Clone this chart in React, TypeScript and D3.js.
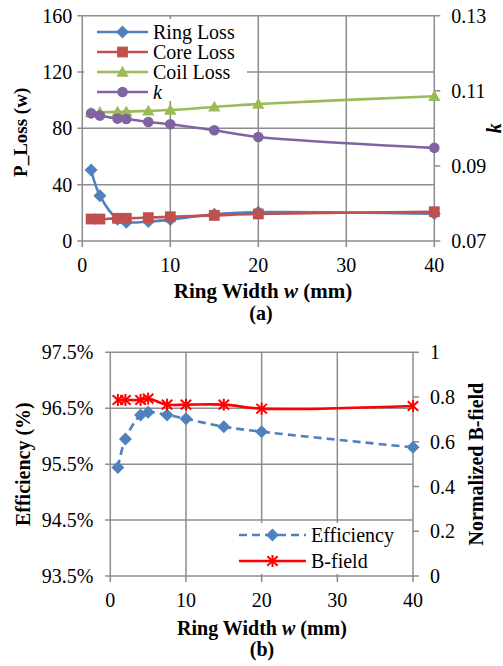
import React from "react";
import * as d3 from "d3";

// Ring width sweep (mm)
const widths = [1, 2, 4, 5, 7.5, 10, 15, 20, 40];

// (a) losses in W and coupling factor k
const ringLoss = [50.4, 32.2, 15.5, 13.3, 13.8, 15.2, 19.0, 20.5, 19.3];
const coreLoss = [15.6, 15.6, 16.1, 16.1, 16.6, 17.2, 18.2, 19.2, 20.8];
const coilLoss = [91.2, 91.4, 91.7, 91.9, 92.4, 93.0, 95.2, 97.3, 102.8];
const kFactor = [0.104, 0.1034, 0.1026, 0.1025, 0.1017, 0.1011, 0.0995, 0.0977, 0.0948];

// (b) efficiency in % and normalized B-field
const efficiency = [95.44, 95.95, 96.38, 96.43, 96.38, 96.31, 96.17, 96.08, 95.8];
const bField = [0.787, 0.787, 0.787, 0.793, 0.766, 0.766, 0.766, 0.748, 0.76];

// Tick labels
const xTicks = [0, 10, 20, 30, 40];
const lossTicks = [0, 40, 80, 120, 160];
const kTicks = [0.07, 0.09, 0.11, 0.13];
const effTicks = [93.5, 94.5, 95.5, 96.5, 97.5];
const bTicks = [0, 0.2, 0.4, 0.6, 0.8, 1];

const FONT = "Liberation Serif";
const GRID = "#8c8c8c";
const BLUE = "#4F81BD";
const RED = "#C0504D";
const GREEN = "#9BBB59";
const PURPLE = "#8064A2";
const BRED = "#FF0000";

type Pt = [number, number];

function Marker({ kind, x, y, color }: { kind: string; x: number; y: number; color: string }) {
  if (kind === "diamond") {
    const r = 6.5;
    return <path d={`M${x},${y - r}L${x + r},${y}L${x},${y + r}L${x - r},${y}Z`} fill={color} />;
  }
  if (kind === "square") {
    const s = 5.4;
    return <rect x={x - s} y={y - s} width={2 * s} height={2 * s} fill={color} />;
  }
  if (kind === "triangle") {
    const s = 6.2;
    return <path d={`M${x},${y - s}L${x + s},${y + s * 0.75}L${x - s},${y + s * 0.75}Z`} fill={color} />;
  }
  if (kind === "circle") {
    return <circle cx={x} cy={y} r={5.3} fill={color} />;
  }
  // asterisk
  const a = 6;
  return (
    <g stroke={color} strokeWidth={2}>
      <line x1={x} y1={y - a} x2={x} y2={y + a} />
      <line x1={x - a * 0.87} y1={y - a * 0.8} x2={x + a * 0.87} y2={y + a * 0.8} />
      <line x1={x - a * 0.87} y1={y + a * 0.8} x2={x + a * 0.87} y2={y - a * 0.8} />
    </g>
  );
}

function Series({
  pts,
  color,
  kind,
  dash,
}: {
  pts: Pt[];
  color: string;
  kind: string;
  dash?: string;
}) {
  const line = d3.line<Pt>().curve(d3.curveCatmullRom.alpha(0.5));
  return (
    <g>
      <path d={line(pts) || ""} fill="none" stroke={color} strokeWidth={2.6} strokeDasharray={dash} />
      {pts.map((p, i) => (
        <Marker key={i} kind={kind} x={p[0]} y={p[1]} color={color} />
      ))}
    </g>
  );
}

function LegendRow({
  x0,
  x1,
  y,
  color,
  kind,
  dash,
  children,
}: {
  x0: number;
  x1: number;
  y: number;
  color: string;
  kind: string;
  dash?: string;
  children: React.ReactNode;
}) {
  return (
    <g>
      <line x1={x0} y1={y} x2={x1} y2={y} stroke={color} strokeWidth={2.6} strokeDasharray={dash} />
      <Marker kind={kind} x={(x0 + x1) / 2} y={y} color={color} />
      <text x={x1 + 5} y={y} dy="0.33em" fontSize={20} fontFamily={FONT}>
        {children}
      </text>
    </g>
  );
}

export default function App() {
  // ---- chart (a) ----
  const xA = d3.scaleLinear().domain([0, 40]).range([82.3, 434.3]);
  const yA = d3.scaleLinear().domain([0, 160]).range([241, 15.7]);
  const kA = d3.scaleLinear().domain([0.07, 0.13]).range([241, 15.7]);

  // ---- chart (b) ----
  const xB = d3.scaleLinear().domain([0, 40]).range([110.3, 413]);
  const yB = d3.scaleLinear().domain([93.5, 97.5]).range([576, 352.3]);
  const bB = d3.scaleLinear().domain([0, 1]).range([576, 352.3]);

  const ptsA = (vals: number[], ys: d3.ScaleLinear<number, number>): Pt[] =>
    widths.map((w, i) => [xA(w), ys(vals[i])]);
  const ptsB = (vals: number[], ys: d3.ScaleLinear<number, number>): Pt[] =>
    widths.map((w, i) => [xB(w), ys(vals[i])]);

  const [a0, a1] = xA.range();
  const [aBot, aTop] = yA.range();
  const [b0, b1] = xB.range();
  const [bBot, bTop] = yB.range();

  return (
    <svg
      width={503}
      height={666}
      style={{ position: "absolute", left: 0, top: 0, background: "#fff" }}
      fontFamily={FONT}
    >
      <rect width={503} height={666} fill="#fff" />

      {/* ===== (a) Loss and k ===== */}
      <g>
        {lossTicks.map((t) => (
          <line key={t} x1={a0 - 5} x2={a1} y1={yA(t)} y2={yA(t)} stroke={GRID} strokeWidth={1.5} />
        ))}
        {xTicks.map((t) => (
          <line key={t} x1={xA(t)} x2={xA(t)} y1={aTop} y2={aBot + 6} stroke={GRID} strokeWidth={1.5} />
        ))}
        {kTicks.map((t) => (
          <line key={t} x1={a1} x2={a1 + 6} y1={kA(t)} y2={kA(t)} stroke={GRID} strokeWidth={1.5} />
        ))}
        {lossTicks.map((t) => (
          <text key={t} x={a0 - 10} y={yA(t)} dy="0.35em" textAnchor="end" fontSize={20} fontFamily={FONT}>
            {t}
          </text>
        ))}
        {kTicks.map((t) => (
          <text key={t} x={a1 + 17} y={kA(t)} dy="0.35em" fontSize={20} fontFamily={FONT}>
            {t.toFixed(2)}
          </text>
        ))}
        {xTicks.map((t) => (
          <text key={t} x={xA(t)} y={272} textAnchor="middle" fontSize={20} fontFamily={FONT}>
            {t}
          </text>
        ))}

        {/* legend */}
        <rect x={84} y={19} width={163} height={82} fill="#fff" />
        <LegendRow x0={97} x1={148} y={32} color={BLUE} kind="diamond">Ring Loss</LegendRow>
        <LegendRow x0={97} x1={148} y={52} color={RED} kind="square">Core Loss</LegendRow>
        <LegendRow x0={97} x1={148} y={72} color={GREEN} kind="triangle">Coil Loss</LegendRow>
        <LegendRow x0={97} x1={148} y={92} color={PURPLE} kind="circle">
          <tspan fontStyle="italic">k</tspan>
        </LegendRow>

        <Series pts={ptsA(coilLoss, yA)} color={GREEN} kind="triangle" />
        <Series pts={ptsA(kFactor, kA)} color={PURPLE} kind="circle" />
        <Series pts={ptsA(ringLoss, yA)} color={BLUE} kind="diamond" />
        <Series pts={ptsA(coreLoss, yA)} color={RED} kind="square" />

        <text
          transform={`translate(20,${(aTop + aBot) / 2 + 4}) rotate(-90)`}
          textAnchor="middle"
          dy="0.35em"
          fontSize={19}
          fontWeight="bold"
          fontFamily={FONT}
        >
          P_Loss (w)
        </text>
        <text
          transform={`translate(494,${(aTop + aBot) / 2}) rotate(-90)`}
          textAnchor="middle"
          dy="0.35em"
          fontSize={20}
          fontWeight="bold"
          fontStyle="italic"
          fontFamily={FONT}
        >
          k
        </text>
        <text x={263} y={298} textAnchor="middle" fontSize={21} fontWeight="bold" fontFamily={FONT}>
          Ring Width <tspan fontStyle="italic">w</tspan> (mm)
        </text>
        <text x={261} y={320} textAnchor="middle" fontSize={20} fontWeight="bold" fontFamily={FONT}>
          (a)
        </text>
      </g>

      {/* ===== (b) Efficiency and B-field ===== */}
      <g>
        {effTicks.map((t) => (
          <line key={t} x1={b0 - 5} x2={b1} y1={yB(t)} y2={yB(t)} stroke={GRID} strokeWidth={1.5} />
        ))}
        {xTicks.map((t) => (
          <line key={t} x1={xB(t)} x2={xB(t)} y1={bTop} y2={bBot + 6} stroke={GRID} strokeWidth={1.5} />
        ))}
        {bTicks.map((t) => (
          <line key={t} x1={b1} x2={b1 + 6} y1={bB(t)} y2={bB(t)} stroke={GRID} strokeWidth={1.5} />
        ))}
        {effTicks.map((t) => (
          <text key={t} x={b0 - 17} y={yB(t)} dy="0.35em" textAnchor="end" fontSize={20} fontFamily={FONT}>
            {t.toFixed(1)}%
          </text>
        ))}
        {bTicks.map((t) => (
          <text key={t} x={b1 + 17} y={bB(t)} dy="0.35em" fontSize={20} fontFamily={FONT}>
            {t}
          </text>
        ))}
        {xTicks.map((t) => (
          <text key={t} x={xB(t)} y={607} textAnchor="middle" fontSize={20} fontFamily={FONT}>
            {t}
          </text>
        ))}

        {/* legend */}
        <rect x={233} y={523} width={178} height={51} fill="#fff" />
        <LegendRow x0={239} x1={306} y={535} color={BLUE} kind="diamond" dash="8,5">
          Efficiency
        </LegendRow>
        <LegendRow x0={239} x1={306} y={561} color={BRED} kind="asterisk">
          B-field
        </LegendRow>

        <Series pts={ptsB(efficiency, yB)} color={BLUE} kind="diamond" dash="8,5" />
        <Series pts={ptsB(bField, bB)} color={BRED} kind="asterisk" />

        <text
          transform={`translate(23,${(bTop + bBot) / 2}) rotate(-90)`}
          textAnchor="middle"
          dy="0.35em"
          fontSize={20}
          fontWeight="bold"
          fontFamily={FONT}
        >
          Efficiency (%)
        </text>
        <text
          transform={`translate(476,${(bTop + bBot) / 2}) rotate(-90)`}
          textAnchor="middle"
          dy="0.35em"
          fontSize={20}
          fontWeight="bold"
          fontFamily={FONT}
        >
          Normalized B-field
        </text>
        <text x={262} y={635} textAnchor="middle" fontSize={20} fontWeight="bold" fontFamily={FONT}>
          Ring Width <tspan fontStyle="italic">w</tspan> (mm)
        </text>
        <text x={262} y={656} textAnchor="middle" fontSize={20} fontWeight="bold" fontFamily={FONT}>
          (b)
        </text>
      </g>
    </svg>
  );
}
